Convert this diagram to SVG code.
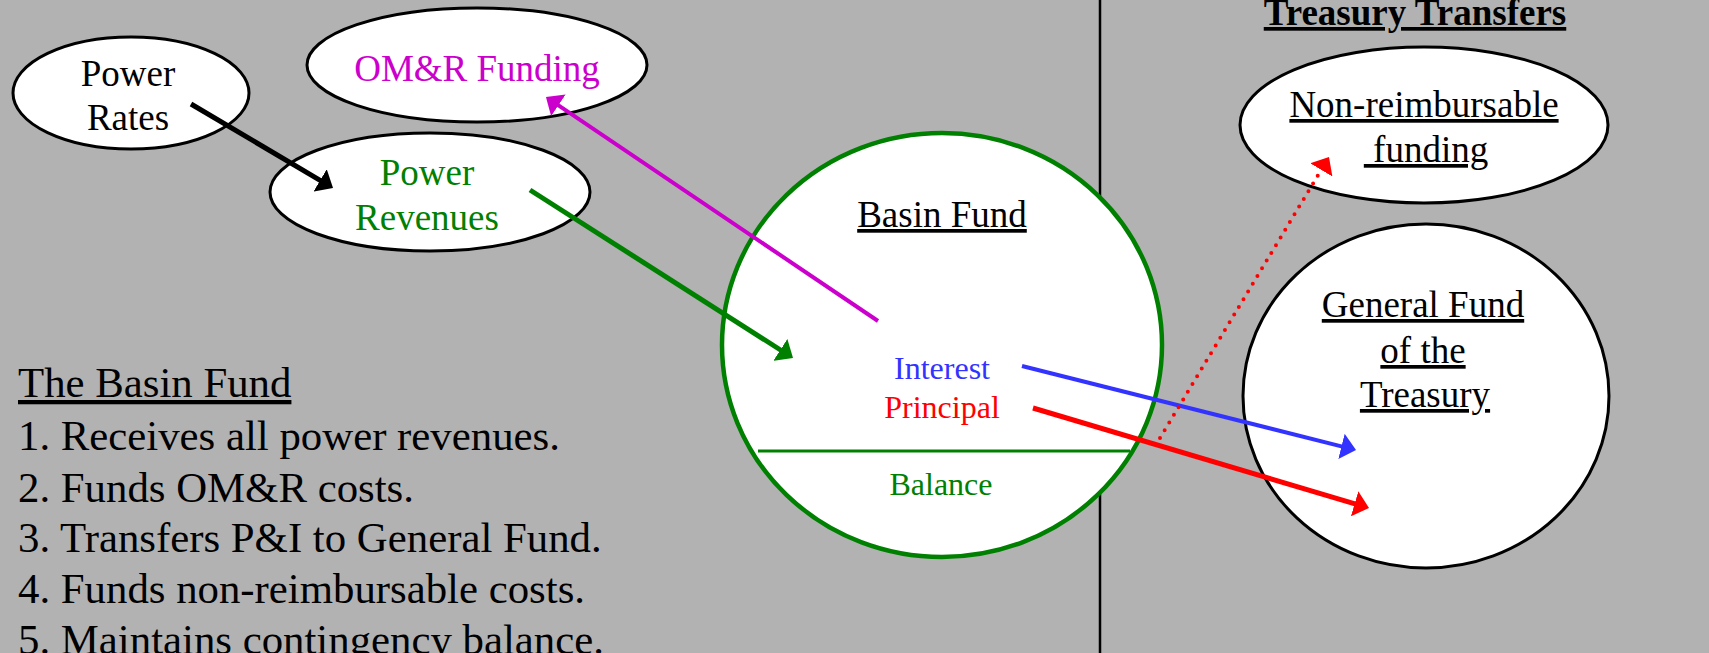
<svg xmlns="http://www.w3.org/2000/svg" width="1709" height="653" viewBox="0 0 1709 653">
  <style>
    text { font-family: "Liberation Serif", "Times New Roman", serif; text-anchor: middle; }
    .big { font-size: 37px; }
    .small { font-size: 32px; }
    .list { font-size: 42.8px; text-anchor: start; fill: #000; }
    .u { text-decoration: underline; }
    .node { fill: #fff; stroke: #000; stroke-width: 3; }
    .conn { fill: none; }
  </style>
  <defs>
    <!-- short, wide filled arrowheads; the line ends 12px before the tip -->
    <marker id="ahBlack" markerUnits="userSpaceOnUse" markerWidth="16" markerHeight="26" refX="3" refY="13" orient="auto">
      <path d="M0,0 L15,13 L0,26 z" fill="#000"/>
    </marker>
    <marker id="ahGreen" markerUnits="userSpaceOnUse" markerWidth="16" markerHeight="26" refX="3" refY="13" orient="auto">
      <path d="M0,0 L15,13 L0,26 z" fill="#008000"/>
    </marker>
    <marker id="ahMagenta" markerUnits="userSpaceOnUse" markerWidth="16" markerHeight="26" refX="3" refY="13" orient="auto">
      <path d="M0,0 L15,13 L0,26 z" fill="#cc00cc"/>
    </marker>
    <marker id="ahBlue" markerUnits="userSpaceOnUse" markerWidth="16" markerHeight="26" refX="3" refY="13" orient="auto">
      <path d="M0,0 L15,13 L0,26 z" fill="#3333ff"/>
    </marker>
    <marker id="ahRed" markerUnits="userSpaceOnUse" markerWidth="16" markerHeight="26" refX="3" refY="13" orient="auto">
      <path d="M0,0 L15,13 L0,26 z" fill="#ff0000"/>
    </marker>
  </defs>

  <!-- background -->
  <rect x="0" y="0" width="1709" height="653" fill="#b2b2b2"/>

  <!-- divider between the two panels -->
  <line x1="1100" y1="0" x2="1100" y2="653" stroke="#000" stroke-width="2.5"/>

  <!-- panel heading -->
  <text x="1415" y="25" class="big u" font-weight="bold">Treasury Transfers</text>

  <g id="power-rates">
    <ellipse cx="131" cy="93" rx="118" ry="56" class="node"/>
    <text x="128" y="86" class="big" fill="#000">Power</text>
    <text x="128" y="130" class="big" fill="#000">Rates</text>
  </g>

  <g id="omr-funding">
    <ellipse cx="477" cy="65" rx="170" ry="57" class="node"/>
    <text x="477" y="81" class="big" fill="#cc00cc">OM&amp;R Funding</text>
  </g>

  <g id="power-revenues">
    <ellipse cx="430" cy="192" rx="160" ry="59" class="node"/>
    <text x="427" y="185" class="big" fill="#008000">Power</text>
    <text x="427" y="230" class="big" fill="#008000">Revenues</text>
  </g>

  <g id="basin-fund">
    <ellipse cx="942" cy="345" rx="220" ry="212" fill="#fff" stroke="#008000" stroke-width="4.5"/>
    <line x1="758" y1="451" x2="1130" y2="451" stroke="#008000" stroke-width="3"/>
    <text x="942" y="227" class="big u" fill="#000">Basin Fund</text>
    <text x="942" y="379" class="small" fill="#3333ff">Interest</text>
    <text x="942" y="418" class="small" fill="#ff0000">Principal</text>
    <text x="941" y="495" class="small" fill="#008000">Balance</text>
  </g>

  <g id="non-reimbursable">
    <ellipse cx="1424" cy="125" rx="184" ry="78" class="node"/>
    <text x="1424" y="117" class="big u" fill="#000">Non-reimbursable</text>
    <text x="1426" y="162" class="big u" fill="#000" xml:space="preserve"> funding</text>
  </g>

  <g id="general-fund">
    <ellipse cx="1426" cy="396" rx="183" ry="172" class="node"/>
    <text x="1423" y="317" class="big u" fill="#000">General Fund</text>
    <text x="1423" y="363" class="big u" fill="#000">of the</text>
    <text x="1425" y="407" class="big u" fill="#000">Treasury</text>
  </g>

  <g id="notes">
    <text x="18" y="397" class="list u">The Basin Fund</text>
    <text x="18" y="450" class="list">1. Receives all power revenues.</text>
    <text x="18" y="502" class="list">2. Funds OM&amp;R costs.</text>
    <text x="18" y="552" class="list">3. Transfers P&amp;I to General Fund.</text>
    <text x="18" y="603" class="list">4. Funds non-reimbursable costs.</text>
    <text x="18" y="654" class="list">5. Maintains contingency balance.</text>
  </g>

  <g id="connectors" class="conn">
    <line x1="191" y1="104" x2="322.7" y2="181.9" stroke="#000" stroke-width="5" marker-end="url(#ahBlack)"/>
    <line x1="530" y1="190" x2="782.9" y2="351.5" stroke="#008000" stroke-width="5" marker-end="url(#ahGreen)"/>
    <line x1="878" y1="321" x2="555.9" y2="103.7" stroke="#cc00cc" stroke-width="4" marker-end="url(#ahMagenta)"/>
    <line x1="1022" y1="366" x2="1344.4" y2="447.1" stroke="#3333ff" stroke-width="4" marker-end="url(#ahBlue)"/>
    <line x1="1033" y1="408" x2="1357.5" y2="504.6" stroke="#ff0000" stroke-width="5" marker-end="url(#ahRed)"/>
    <line x1="1160" y1="438" x2="1322.8" y2="167.3" stroke="#ff0000" stroke-width="4" stroke-linecap="round" stroke-dasharray="0 9" marker-end="url(#ahRed)"/>
  </g>
</svg>
